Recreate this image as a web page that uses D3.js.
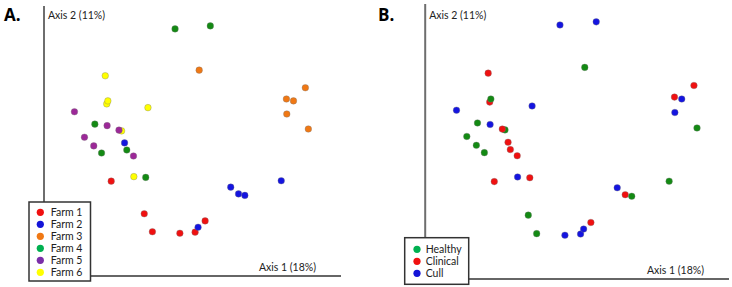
<!DOCTYPE html>
<html>
<head>
<meta charset="utf-8">
<script src="https://cdn.jsdelivr.net/npm/d3@7"></script>
<style>
  html, body { margin: 0; padding: 0; background: #fff; }
  svg { display: block; }
  text { font-family: Lato, "Open Sans", sans-serif; fill: #222; }
</style>
</head>
<body>
<svg id="chart" width="732" height="287"></svg>
<script>
// ---- data (PCoA coordinates) ----
const axis1 = [
  // Farm 6
  -0.231, -0.235, -0.228, -0.120, -0.191, -0.158,
  // Farm 1
  -0.219, -0.130, 0.034, -0.108, -0.034, 0.007,
  // Farm 2
  -0.183, 0.103, 0.124, 0.141, 0.239, 0.015,
  // Farm 3
  0.018, 0.304, 0.253, 0.272, 0.254, 0.312,
  // Farm 4
  -0.047, 0.048, -0.263, -0.245, -0.177, -0.126,
  // Farm 5
  -0.318, -0.230, -0.198, -0.291, -0.266, -0.159
];
const axis2 = [
  0.099, 0.174, 0.107, 0.089, 0.027, -0.095,
  -0.107, -0.194, -0.213, -0.242, -0.246, -0.243,
  -0.005, -0.123, -0.141, -0.145, -0.106, -0.230,
  0.189, 0.142, 0.112, 0.107, 0.072, 0.032,
  0.299, 0.307, 0.045, -0.032, -0.024, -0.097,
  0.078, 0.041, 0.029, 0.010, -0.013, -0.040
];
const farm = [
  "Farm 6","Farm 6","Farm 6","Farm 6","Farm 6","Farm 6",
  "Farm 1","Farm 1","Farm 1","Farm 1","Farm 1","Farm 1",
  "Farm 2","Farm 2","Farm 2","Farm 2","Farm 2","Farm 2",
  "Farm 3","Farm 3","Farm 3","Farm 3","Farm 3","Farm 3",
  "Farm 4","Farm 4","Farm 4","Farm 4","Farm 4","Farm 4",
  "Farm 5","Farm 5","Farm 5","Farm 5","Farm 5","Farm 5"
];
const status = [
  "Clinical","Clinical","Healthy","Cull","Healthy","Cull",
  "Clinical","Healthy","Clinical","Healthy","Cull","Cull",
  "Clinical","Cull","Clinical","Healthy","Healthy","Cull",
  "Healthy","Clinical","Clinical","Cull","Cull","Healthy",
  "Cull","Cull","Healthy","Healthy","Clinical","Clinical",
  "Cull","Cull","Clinical","Healthy","Healthy","Clinical"
];
const farmNames = ["Farm 1","Farm 2","Farm 3","Farm 4","Farm 5","Farm 6"];
const statusNames = ["Healthy","Clinical","Cull"];
const axisLabelX = "Axis 1 (18%)";
const axisLabelY = "Axis 2 (11%)";

// colours
const farmColor = d3.scaleOrdinal().domain(farmNames)
  .range(["#f01010","#1414e0","#f07814","#138a13","#9c2898","#ffff00"]);
const farmLegendColor = d3.scaleOrdinal().domain(farmNames)
  .range(["#f01010","#1414d8","#f07814","#00b050","#7a2ea8","#ffff00"]);
const statusColor = d3.scaleOrdinal().domain(statusNames)
  .range(["#138a13","#f01010","#1414e0"]);
const statusLegendColor = d3.scaleOrdinal().domain(statusNames)
  .range(["#00b050","#f01010","#1414d8"]);

const points = axis1.map((x, i) => ({x, y: axis2[i], farm: farm[i], status: status[i]}));

const svg = d3.select("#chart");

function panel(cfg) {
  const g = svg.append("g");
  const x = d3.scaleLinear().domain([-0.4, 0.4]).range(cfg.xr);
  const y = d3.scaleLinear().domain([-0.36, 0.36]).range(cfg.yr);

  // axes lines (no ticks)
  g.append("line")
    .attr("x1", cfg.xr[0]).attr("x2", cfg.xr[0])
    .attr("y1", cfg.vTop).attr("y2", cfg.hY)
    .attr("stroke", "#6e6e6e").attr("stroke-width", 2);
  g.append("line")
    .attr("x1", cfg.xr[0]).attr("x2", cfg.hRight)
    .attr("y1", cfg.hY).attr("y2", cfg.hY)
    .attr("stroke", "#333").attr("stroke-width", 1.5);

  g.append("text").attr("x", cfg.xr[0] + 4).attr("y", 19)
    .attr("font-size", 10.5).text(axisLabelY);
  g.append("text").attr("x", cfg.hRight - 25).attr("y", cfg.hY - 5)
    .attr("text-anchor", "end").attr("font-size", 10.5).text(axisLabelX);

  g.append("text").attr("x", cfg.letterX).attr("y", 21)
    .attr("font-size", 17).attr("font-weight", "bold")
    .style("font-family", "'Open Sans', sans-serif").style("fill", "#000")
    .text(cfg.letter);

  g.selectAll("circle.pt").data(points).join("circle")
    .attr("class", "pt")
    .attr("cx", d => x(d.x)).attr("cy", d => y(d.y))
    .attr("r", 3.3)
    .attr("fill", d => cfg.color(d[cfg.key]))
    .attr("stroke", "#777").attr("stroke-width", 0.35);

  // legend
  const L = cfg.legend;
  g.append("rect").attr("x", L.x).attr("y", L.y).attr("width", L.w).attr("height", L.h)
    .attr("fill", "#fff").attr("stroke", "#333").attr("stroke-width", 1.5);
  const items = g.selectAll("g.li").data(cfg.names).join("g")
    .attr("class", "li")
    .attr("transform", (d, i) => `translate(${L.dotX},${L.firstY + i * 12})`);
  items.append("circle").attr("r", 3.6).attr("fill", d => cfg.legendColor(d));
  items.append("text").attr("x", L.textDx).attr("y", 4).attr("font-size", 10.5).text(d => d);
}

panel({
  letter: "A.", letterX: 4,
  xr: [44, 341], yr: [276, 6], vTop: 6, hY: 276, hRight: 341,
  key: "farm", color: farmColor, legendColor: farmLegendColor, names: farmNames,
  legend: {x: 29, y: 202, w: 61.5, h: 79, dotX: 40.3, firstY: 212.3, textDx: 10.5}
});
panel({
  letter: "B.", letterX: 378,
  xr: [425.2, 730.6], yr: [279.2, 1.4], vTop: 4, hY: 279, hRight: 729,
  key: "status", color: statusColor, legendColor: statusLegendColor, names: statusNames,
  legend: {x: 404.7, y: 237.7, w: 64, h: 46.6, dotX: 417, firstY: 249.3, textDx: 8.7}
});
</script>
</body>
</html>
